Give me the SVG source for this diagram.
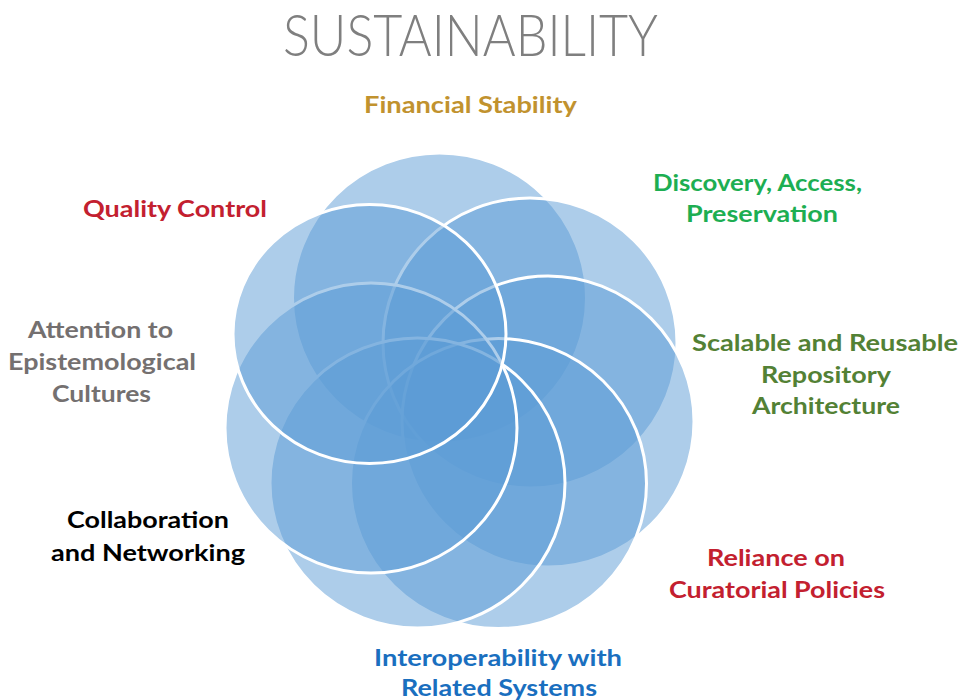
<svg xmlns="http://www.w3.org/2000/svg" width="962" height="700" viewBox="0 0 962 700">
  <style>
    .c { fill: #5B9BD5; fill-opacity: 0.5; stroke: #FFFFFF; stroke-width: 3; }
    .lbl { font-family: "Lato", "Liberation Sans", sans-serif; font-weight: bold; font-size: 22px; text-anchor: middle; }
    .title { font-family: "Lato", "Liberation Sans", sans-serif; font-weight: 300; font-size: 58px; fill: #7F7F7F; text-anchor: middle; }
  </style>
  <rect width="962" height="700" fill="#FFFFFF"/>
  <text class="title" x="470.5" y="56" textLength="375" lengthAdjust="spacingAndGlyphs">SUSTAINABILITY</text>

  <g id="circles">
    <g id="c1"><ellipse class="c" cx="439.5" cy="298" rx="147" ry="145"/></g>
    <g id="c2"><ellipse class="c" cx="530" cy="343" rx="147" ry="145"/></g>
    <g id="c3"><ellipse class="c" cx="548" cy="421.5" rx="146" ry="145.5"/></g>
    <g id="c4"><ellipse class="c" cx="498.5" cy="483.5" rx="148" ry="145"/></g>
    <g id="c5"><ellipse class="c" cx="417.5" cy="483" rx="147.5" ry="145"/></g>
    <g id="c6"><ellipse class="c" cx="371" cy="428" rx="146" ry="145"/></g>
    <g id="c7"><ellipse class="c" cx="369.5" cy="334" rx="136.5" ry="129.5"/></g>
  </g>

  <g id="label-financial"><text class="lbl" fill="#C1922E" x="470.5" y="113" textLength="213" lengthAdjust="spacingAndGlyphs">Financial Stability</text></g>
  <g id="label-discovery" fill="#1DAE52">
    <text class="lbl" x="757.5" y="191" textLength="209" lengthAdjust="spacingAndGlyphs">Discovery, Access,</text>
    <text class="lbl" x="762" y="222" textLength="152" lengthAdjust="spacingAndGlyphs">Preservation</text>
  </g>
  <g id="label-scalable" fill="#538135">
    <text class="lbl" x="825" y="351" textLength="266" lengthAdjust="spacingAndGlyphs">Scalable and Reusable</text>
    <text class="lbl" x="826" y="383" textLength="130" lengthAdjust="spacingAndGlyphs">Repository</text>
    <text class="lbl" x="826" y="414" textLength="148" lengthAdjust="spacingAndGlyphs">Architecture</text>
  </g>
  <g id="label-reliance" fill="#C3202F">
    <text class="lbl" x="776" y="566" textLength="138" lengthAdjust="spacingAndGlyphs">Reliance on</text>
    <text class="lbl" x="777" y="598" textLength="216" lengthAdjust="spacingAndGlyphs">Curatorial Policies</text>
  </g>
  <g id="label-interop" fill="#1A6FBF">
    <text class="lbl" x="498" y="666" textLength="248" lengthAdjust="spacingAndGlyphs">Interoperability with</text>
    <text class="lbl" x="499" y="696" textLength="196" lengthAdjust="spacingAndGlyphs">Related Systems</text>
  </g>
  <g id="label-collab" fill="#000000">
    <text class="lbl" x="148" y="528" textLength="162" lengthAdjust="spacingAndGlyphs">Collaboration</text>
    <text class="lbl" x="148" y="561" textLength="194" lengthAdjust="spacingAndGlyphs">and Networking</text>
  </g>
  <g id="label-attention" fill="#747070">
    <text class="lbl" x="100.5" y="338" textLength="145" lengthAdjust="spacingAndGlyphs">Attention to</text>
    <text class="lbl" x="102" y="370" textLength="188" lengthAdjust="spacingAndGlyphs">Epistemological</text>
    <text class="lbl" x="101.5" y="402" textLength="99" lengthAdjust="spacingAndGlyphs">Cultures</text>
  </g>
  <g id="label-quality"><text class="lbl" fill="#C3202F" x="175" y="217" textLength="184" lengthAdjust="spacingAndGlyphs">Quality Control</text></g>
</svg>
